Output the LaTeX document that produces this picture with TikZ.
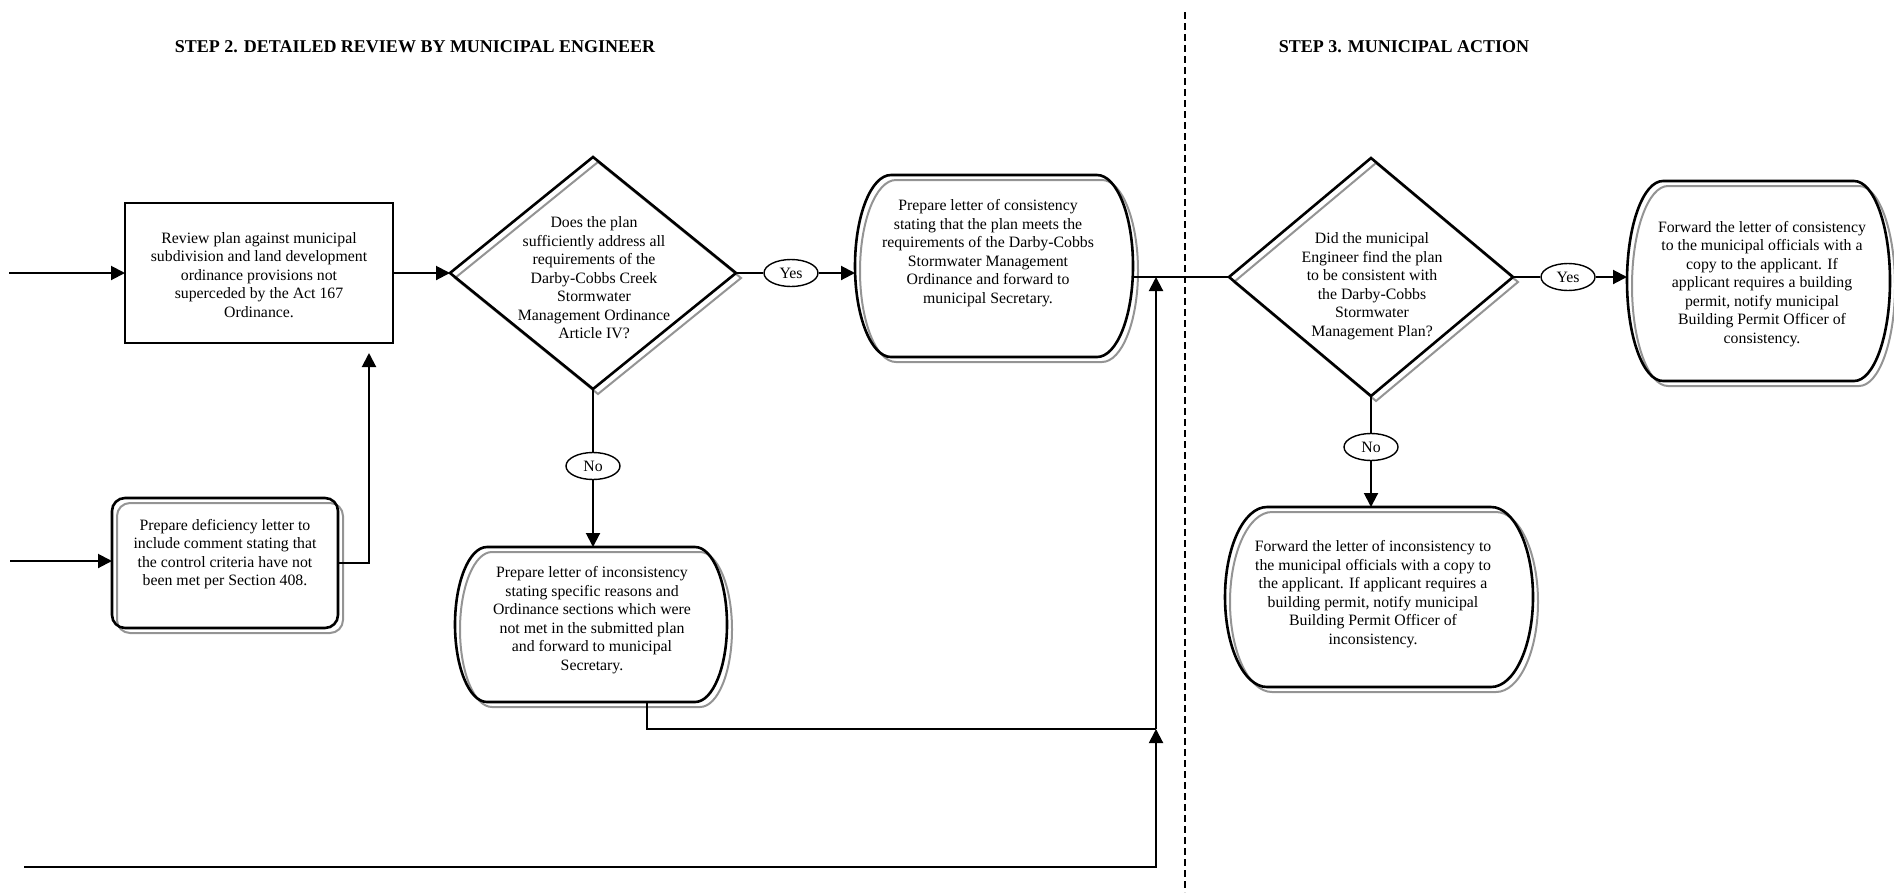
\documentclass[tikz,border=0pt]{standalone}
\usepackage{fontspec}
\setmainfont{Liberation Serif}
\usetikzlibrary{arrows.meta,shapes.geometric}
% stadium-like shape with elliptic ends: #1 options, #2 x1, #3 y1, #4 x2, #5 y2, #6 end width
\newcommand{\stadshape}[6]{%
 \draw[#1] ({#2+#6},#3) -- ({#4-#6},#3)
  .. controls ({#4-0.4477*#6},#3) and (#4,{(#3+#5)/2-0.2761*(#5-#3)}) .. (#4,{(#3+#5)/2})
  .. controls (#4,{(#3+#5)/2+0.2761*(#5-#3)}) and ({#4-0.4477*#6},#5) .. ({#4-#6},#5)
  -- ({#2+#6},#5)
  .. controls ({#2+0.4477*#6},#5) and (#2,{(#3+#5)/2+0.2761*(#5-#3)}) .. (#2,{(#3+#5)/2})
  .. controls (#2,{(#3+#5)/2-0.2761*(#5-#3)}) and ({#2+0.4477*#6},#3) .. cycle;}
% diamond: #1 options, #2 cx, #3 cy, #4 half width, #5 half height
\newcommand{\diamshape}[5]{%
 \draw[#1] ({#2-#4},#3) -- (#2,{#3-#5}) -- ({#2+#4},#3) -- (#2,{#3+#5}) -- cycle;}
\begin{document}
\begin{tikzpicture}[x=1pt,y=-1pt,
  frame/.style={draw=black, line width=2.6pt, line join=miter},
  ghost/.style={draw=black!42, line width=2pt, shift={(5,5)}},
  anch/.style={shape=rectangle, inner sep=0pt, outer sep=0pt, draw=none},
  txt/.style={align=center, font=\fontsize{15.8}{18.5}\selectfont, inner sep=0pt},
  lab/.style={ellipse, draw, line width=1.4pt, fill=white, minimum width=54pt,
              minimum height=27pt, inner sep=0pt, font=\fontsize{15.8}{18.5}\selectfont},
  conn/.style={line width=2pt},
  thinconn/.style={line width=1.4pt},
  arr/.style={-{Triangle[length=14pt,width=14pt]}},
  head/.style={font=\fontsize{18}{21}\selectfont\bfseries, inner sep=0pt},
  divider/.style={line width=1.5pt, dash pattern=on 7pt off 4pt}]
\useasboundingbox (0,0) rectangle (1894,892);

% headings
\node[head] (h2) at (415,47) {STEP 2. DETAILED REVIEW BY MUNICIPAL ENGINEER};
\node[head] (h3) at (1404,47) {STEP 3. MUNICIPAL ACTION};

% divider
\coordinate (dvt) at (1185,12);
\coordinate (dvb) at (1185,892);
\draw[divider] (dvt) -- (dvb);

% anchor frames
\node[anch, minimum width=268pt, minimum height=140pt] (b1) at (259,273) {};
\node[anch, minimum width=286pt, minimum height=232pt] (d1) at (593,273) {};
\node[anch, minimum width=278pt, minimum height=182pt] (b3) at (994,266) {};
\node[anch, minimum width=284pt, minimum height=238pt] (d2) at (1371,277) {};
\node[anch, minimum width=263pt, minimum height=200pt] (b5) at (1758.5,281) {};
\node[anch, minimum width=226pt, minimum height=130pt] (b2) at (225,563) {};
\node[anch, minimum width=272pt, minimum height=155pt] (b4) at (591,624.5) {};
\node[anch, minimum width=308pt, minimum height=180pt] (b6) at (1379,597) {};

% shapes
\draw[frame] (125,203) rectangle (393,343);
\diamshape{ghost}{593}{273}{143}{116}
\diamshape{frame}{593}{273}{143}{116}
\stadshape{ghost}{855}{175}{1133}{357}{36}
\stadshape{frame}{855}{175}{1133}{357}{36}
\diamshape{ghost}{1371}{277}{142}{119}
\diamshape{frame}{1371}{277}{142}{119}
\stadshape{ghost}{1627}{181}{1890}{381}{36}
\stadshape{frame}{1627}{181}{1890}{381}{36}
\draw[ghost, rounded corners=13pt] (112,498) rectangle (338,628);
\draw[frame, rounded corners=13pt] (112,498) rectangle (338,628);
\stadshape{ghost}{455}{547}{727}{702}{32}
\stadshape{frame}{455}{547}{727}{702}{32}
\stadshape{ghost}{1225}{507}{1533}{687}{42}
\stadshape{frame}{1225}{507}{1533}{687}{42}

% texts
\node[txt] (b1t) at (259,275) {Review plan against municipal\\subdivision and land development\\ordinance provisions not\\superceded by the Act 167\\Ordinance.};
\node[txt] (d1t) at (594,278) {Does the plan\\sufficiently address all\\requirements of the\\Darby-Cobbs Creek\\Stormwater\\Management Ordinance\\Article IV?};
\node[txt] (b3t) at (988,253) {Prepare letter of consistency\\stating that the plan meets the\\requirements of the Darby-Cobbs\\Stormwater Management\\Ordinance and forward to\\municipal Secretary.};
\node[txt] (d2t) at (1372,286) {Did the municipal\\Engineer find the plan\\to be consistent with\\the Darby-Cobbs\\Stormwater\\Management Plan?};
\node[txt] (b5t) at (1762,284) {Forward the letter of consistency\\to the municipal officials with a\\copy to the applicant. If\\applicant requires a building\\permit, notify municipal\\Building Permit Officer of\\consistency.};
\node[txt] (b2t) at (225,554) {Prepare deficiency letter to\\include comment stating that\\the control criteria have not\\been met per Section 408.};
\node[txt] (b4t) at (592,620) {Prepare letter of inconsistency\\stating specific reasons and\\Ordinance sections which were\\not met in the submitted plan\\and forward to municipal\\Secretary.};
\node[txt] (b6t) at (1373,594) {Forward the letter of inconsistency to\\the municipal officials with a copy to\\the applicant. If applicant requires a\\building permit, notify municipal\\Building Permit Officer of\\inconsistency.};

% decision labels
\node[lab] (y1) at (791,273) {Yes};
\node[lab] (y2) at (1568,277) {Yes};
\node[lab] (n1) at (593,466) {No};
\node[lab] (n2) at (1371,447) {No};

% connectors
\coordinate (in1) at (9,273);
\coordinate (in2) at (10,561);
\coordinate (in3) at (24,867);
\coordinate (j1) at (1156,729);

\draw[conn, arr] (in1) -- (b1.west);
\draw[conn, arr] (b1.east) -- (d1.west);
\draw[conn] (d1.east) -- (y1.west);
\draw[conn, arr] (y1.east) -- (y1.east -| b3.west);
\draw[conn] (b3.east |- d2.west) -- (d2.west);
\draw[conn, arr] (j1) -- (j1 |- d2.west);
\draw[conn] (d2.east) -- (y2.west);
\draw[conn, arr] (y2.east) -- (y2.east -| b5.west);
\draw[conn] (d1.south) -- (n1.north);
\draw[conn, arr] (n1.south) -- (n1.south |- b4.north);
\draw[conn] (d2.south) -- (n2.north);
\draw[conn, arr] (n2.south) -- (n2.south |- b6.north);
\draw[conn, arr] (in2) -- (in2 -| b2.west);
\draw[conn, arr, shorten >=10pt] (b2.east) -| ([xshift=110pt]b1.south);
\draw[thinconn] ([xshift=56pt]b4.south) |- (j1);
\draw[conn, arr] (in3) -| (j1);
\end{tikzpicture}
\end{document}
